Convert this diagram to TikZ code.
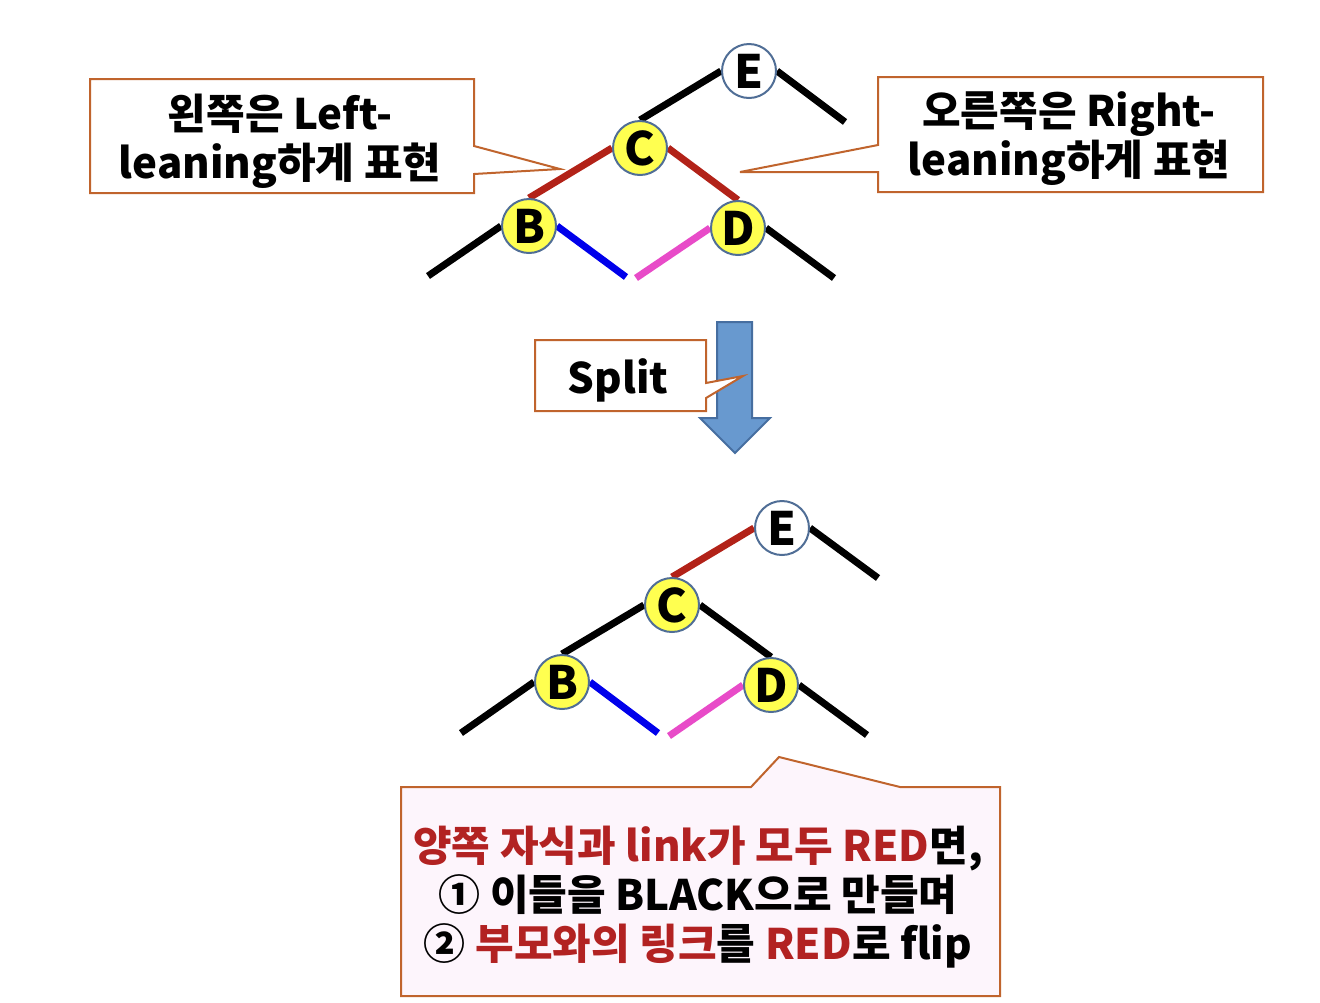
\documentclass[tikz,border=0pt]{standalone}
\usepackage{fontspec}
\setmainfont{Noto Sans CJK KR}
\usetikzlibrary{backgrounds}

\definecolor{nodeline}{RGB}{80,110,150}
\definecolor{nodeyellow}{RGB}{255,255,80}
\definecolor{linkred}{RGB}{178,34,24}
\definecolor{linkblue}{RGB}{0,0,235}
\definecolor{linkpink}{RGB}{232,75,200}
\definecolor{notebrown}{RGB}{192,100,45}
\definecolor{notepink}{RGB}{253,245,252}
\definecolor{arrowfill}{RGB}{104,153,207}
\definecolor{arrowline}{RGB}{70,110,160}
\definecolor{txtred}{RGB}{178,34,34}

\begin{document}
\begin{tikzpicture}[
x=0.5pt, y=-0.5pt,
key/.style={circle, draw=nodeline, line width=1pt, minimum size=27pt, inner sep=0pt,
  font=\bfseries\fontsize{23}{24}\selectfont},
redkey/.style={key, fill=nodeyellow},
blackkey/.style={key, fill=white},
link/.style={line width=3.5pt, black},
redlink/.style={link, linkred},
note/.style={draw=notebrown, line width=1pt, fill=white},
txt/.style={font=\bfseries\fontsize{21}{24.5}\selectfont, align=center}
]
\useasboundingbox (0,0) rectangle (1320,1002);

% before split
\node[blackkey] (E1) at (749,71) {E};
\node[redkey] (C1) at (640,148) {C};
\node[redkey] (B1) at (529,226) {B};
\node[redkey] (D1) at (738,228) {D};
\coordinate (e1r) at (845,122);
\coordinate (b1l) at (428,276);
\coordinate (b1r) at (626,277);
\coordinate (d1l) at (636,278);
\coordinate (d1r) at (834,278);

% after split
\node[blackkey] (E2) at (782,528) {E};
\node[redkey] (C2) at (672,605) {C};
\node[redkey] (B2) at (562,682) {B};
\node[redkey] (D2) at (771,685) {D};
\coordinate (e2r) at (878,578);
\coordinate (b2l) at (461,733);
\coordinate (b2r) at (658,733);
\coordinate (d2l) at (669,736);
\coordinate (d2r) at (867,735);

\begin{scope}[on background layer]
\draw[link] (C1.north) -- (E1.west);
\draw[link] (E1.east) -- (e1r);
\draw[redlink] (C1.west) -- (B1.north);
\draw[redlink] (C1.east) -- (D1.north);
\draw[link] (B1.west) -- (b1l);
\draw[link, linkblue] (B1.east) -- (b1r);
\draw[link, linkpink] (D1.west) -- (d1l);
\draw[link] (D1.east) -- (d1r);

\draw[redlink] (C2.north) -- (E2.west);
\draw[link] (E2.east) -- (e2r);
\draw[link] (C2.west) -- (B2.north);
\draw[link] (C2.east) -- (D2.north);
\draw[link] (B2.west) -- (b2l);
\draw[link, linkblue] (B2.east) -- (b2r);
\draw[link, linkpink] (D2.west) -- (d2l);
\draw[link] (D2.east) -- (d2r);
\end{scope}

% notes
\draw[note] (90,79) -- (474,79) -- (474,146) -- (560,169) -- (474,174) -- (474,193) -- (90,193) -- cycle;
\node[txt] (leftnote) at (280,141) {왼쪽은 Left-\\leaning하게 표현};

\draw[note] (878,77) -- (1263,77) -- (1263,192) -- (878,192) -- (878,172) -- (740,172) -- (878,145) -- cycle;
\node[txt] (rightnote) at (1069,139) {오른쪽은 Right-\\leaning하게 표현};

\draw[fill=arrowfill, draw=arrowline, line width=1pt] (717,322) -- (752,322) -- (752,418) -- (770,418)
  -- (735,453) -- (700,418) -- (717,418) -- cycle;
\draw[note] (535,340) -- (706,340) -- (706,383) -- (743,376) -- (706,398) -- (706,411) -- (535,411) -- cycle;
\node[txt] (splitnote) at (618,380) {Split};

\draw[note, fill=notepink] (401,787) -- (751,787) -- (779,757) -- (900,787) -- (1000,787) -- (1000,996)
  -- (401,996) -- cycle;
\node[txt] (rulenote) at (698,897) {\textcolor{txtred}{양쪽 자식과 link가 모두 RED}면,\\
  ① 이들을 BLACK으로 만들며\\
  ② \textcolor{txtred}{부모와의 링크}를 \textcolor{txtred}{RED}로 flip};
\end{tikzpicture}
\end{document}
